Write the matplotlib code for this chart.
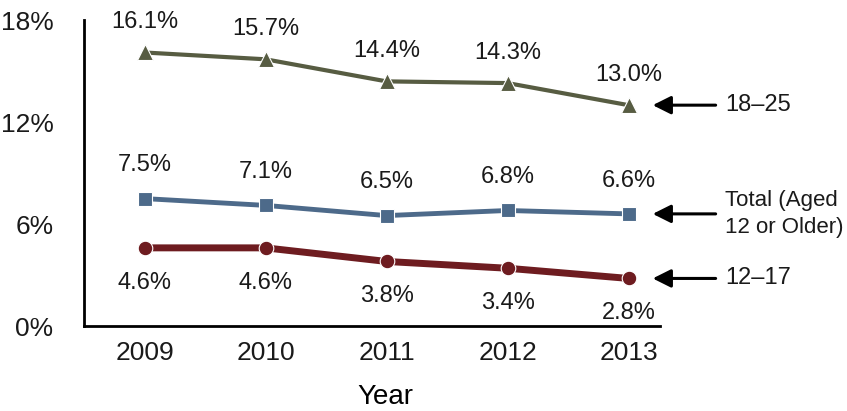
import matplotlib
matplotlib.use("Agg")
import matplotlib.pyplot as plt

plt.rcParams['font.family'] = ['Liberation Sans', 'DejaVu Sans']

years = [2009, 2010, 2011, 2012, 2013]
age_18_25 = [16.1, 15.7, 14.4, 14.3, 13.0]
total_12plus = [7.5, 7.1, 6.5, 6.8, 6.6]
age_12_17 = [4.6, 4.6, 3.8, 3.4, 2.8]
yticks = [0, 6, 12, 18]
series_names = ["18\u201325", "Total (Aged\n12 or Older)", "12\u201317"]

c_olive = "#575C42"
c_blue = "#4D6A8A"
c_red = "#6E1C20"
txt = "#1a1a1a"

fig = plt.figure(figsize=(8.47, 4.11), dpi=100)
ax = fig.add_axes([0.0992, 0.2068, 0.680, 0.744])

ax.plot(years, age_18_25, color=c_olive, lw=3, marker="^", ms=12,
        mec="white", mew=0.8, zorder=3)
ax.plot(years, total_12plus, color=c_blue, lw=3.5, marker="s", ms=10.5,
        mec="white", mew=0.8, zorder=3)
ax.plot(years, age_12_17, color=c_red, lw=5, marker="o", ms=10.5,
        mec="white", mew=0.8, zorder=3)

fs = 17
for x, v in zip(years, age_18_25):
    ax.annotate(f"{v:.1f}%", (x, v), xytext=(0, 22), textcoords="offset points",
                ha="center", va="center", fontsize=fs, color=txt)
for x, v in zip(years, total_12plus):
    ax.annotate(f"{v:.1f}%", (x, v), xytext=(0, 24), textcoords="offset points",
                ha="center", va="center", fontsize=fs, color=txt)
for x, v in zip(years, age_12_17):
    ax.annotate(f"{v:.1f}%", (x, v), xytext=(0, -25), textcoords="offset points",
                ha="center", va="center", fontsize=fs, color=txt)

for vals, name in zip([age_18_25, total_12plus, age_12_17], series_names):
    y = vals[-1]
    ax.annotate("", xy=(2013.2, y), xytext=(2013.72, y), xycoords="data",
                arrowprops=dict(arrowstyle="-|>,head_length=1.1,head_width=0.55",
                                mutation_scale=10, shrinkA=0, shrinkB=0,
                                color="black", lw=2.2),
                annotation_clip=False)
    ax.text(2013.8, y, name, ha="left", va="center",
            fontsize=16 if "\n" in name else fs,
            color=txt, linespacing=1.35, clip_on=False)

ax.set_xlim(2008.5, 2013.26)
ax.set_ylim(0, 18)
ax.set_yticks(yticks)
ax.set_yticklabels([f"{t}%" for t in yticks])
ax.set_xticks(years)
ax.set_xticklabels([str(y) for y in years])
ax.tick_params(axis="both", length=0, labelsize=19, colors=txt)
ax.tick_params(axis="y", pad=22)
ax.tick_params(axis="x", pad=11)
for s in ["top", "right"]:
    ax.spines[s].set_visible(False)
for s in ["left", "bottom"]:
    ax.spines[s].set_linewidth(2)
ax.set_xlabel("Year", fontsize=20, color="black")
ax.xaxis.set_label_coords(0.523, -0.19)

fig.savefig("out.png", dpi=100)
